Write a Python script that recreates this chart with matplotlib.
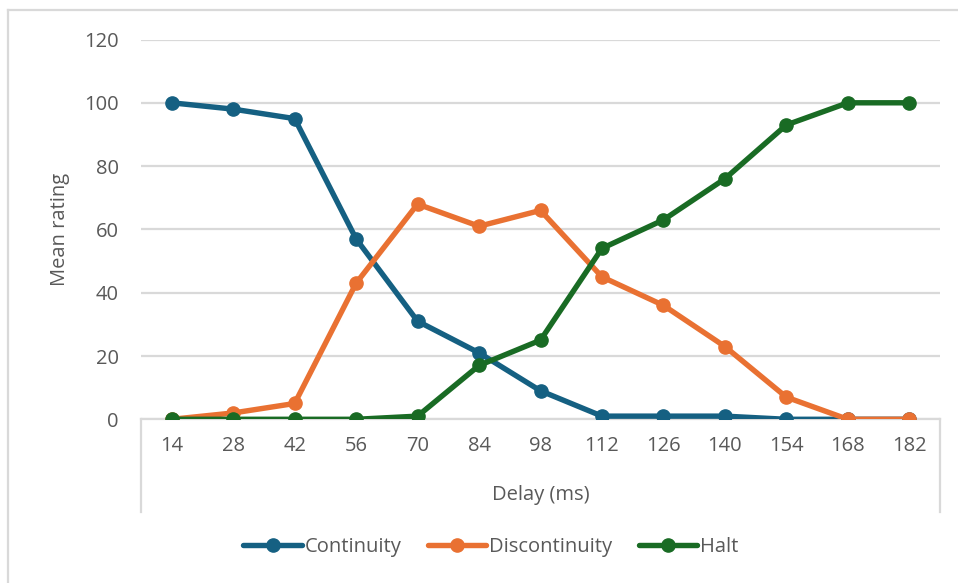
import matplotlib
matplotlib.use("Agg")
import matplotlib.pyplot as plt
from matplotlib.lines import Line2D

plt.rcParams['font.family'] = ['Open Sans', 'DejaVu Sans']

delays = ["14", "28", "42", "56", "70", "84", "98", "112", "126", "140", "154", "168", "182"]
continuity = [100, 98, 95, 57, 31, 21, 9, 1, 1, 1, 0, 0, 0]
discontinuity = [0, 2, 5, 43, 68, 61, 66, 45, 36, 23, 7, 0, 0]
halt = [0, 0, 0, 0, 1, 17, 25, 54, 63, 76, 93, 100, 100]
series_names = ["Continuity", "Discontinuity", "Halt"]

BLUE = "#156082"
ORANGE = "#E97132"
GREEN = "#196B24"
GRID = "#D9D9D9"
TEXT = "#595959"

W, H = 958, 583
fig = plt.figure(figsize=(W / 100, H / 100), dpi=100)


def fx(px):
    return px / W


def fy(py):
    return 1 - py / H


# plot area in pixel coordinates
left, right, top, bottom = 141, 940, 39.5, 419.3
ax = fig.add_axes([fx(left), fy(bottom), fx(right - left), (bottom - top) / H])

x = list(range(len(delays)))
for vals, col, name in zip([continuity, discontinuity, halt], [BLUE, ORANGE, GREEN], series_names):
    ax.plot(x, vals, color=col, lw=3.9, marker="o", ms=9.5, label=name,
            solid_capstyle="round", zorder=3)

ax.set_xlim(-0.5, len(delays) - 0.5)
ax.set_ylim(0, 120)
ax.set_yticks(range(0, 121, 20))
ax.set_xticks(x)
ax.set_xticklabels(delays)
ax.grid(axis="y", color=GRID, lw=1.6)
ax.set_axisbelow(True)
for s in ["top", "left", "right"]:
    ax.spines[s].set_visible(False)
ax.spines["bottom"].set_color(GRID)
ax.spines["bottom"].set_linewidth(1.6)
ax.tick_params(axis="both", length=0, labelsize=14.5, labelcolor=TEXT)
ax.tick_params(axis="x", pad=12)
ax.tick_params(axis="y", pad=16)

# category axis side dividers
for px in (left, right):
    fig.add_artist(Line2D([fx(px), fx(px)], [fy(bottom), fy(512)], color=GRID, lw=1.6))

# chart border
fig.add_artist(Line2D([fx(8), fx(8)], [0, fy(10)], color=GRID, lw=1.6))
fig.add_artist(Line2D([fx(8), 1], [fy(10), fy(10)], color=GRID, lw=1.6))

fig.text(fx(60), fy(229), "Mean rating", rotation=90, ha="center", va="center",
         fontsize=14.5, color=TEXT)
fig.text(fx(540.5), fy(495), "Delay (ms)", ha="center", va="center",
         fontsize=14.5, color=TEXT)

handles, labels = ax.get_legend_handles_labels()
fig.legend(handles, labels, loc="center", bbox_to_anchor=(fx(491), fy(547)), ncol=3,
           frameon=False, fontsize=14.5, labelcolor=TEXT, handlelength=2.9,
           handletextpad=0.15, columnspacing=1.3)

fig.savefig("out.png", dpi=100)
